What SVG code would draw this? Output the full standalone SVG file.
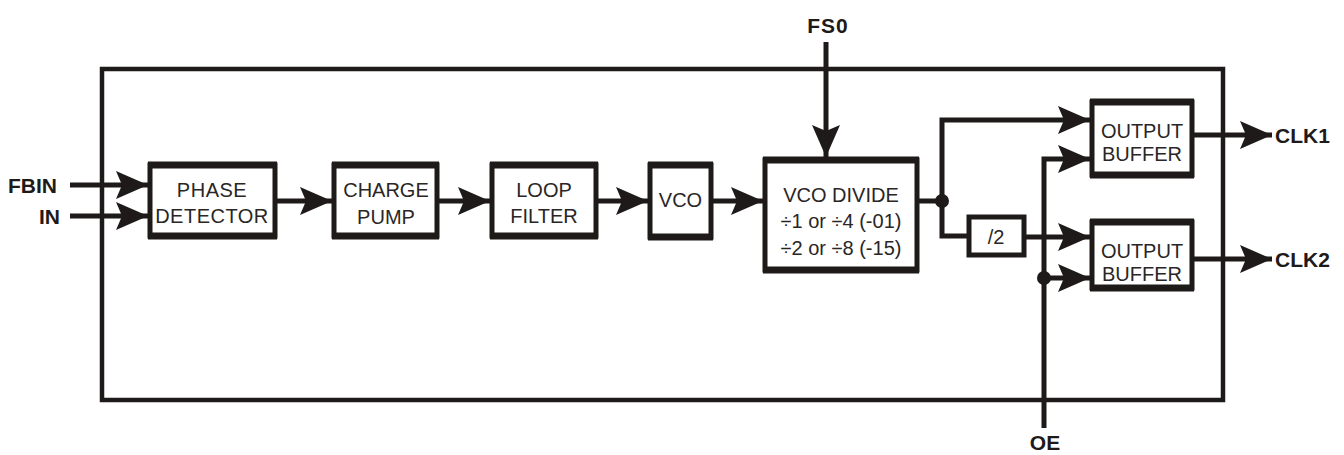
<svg xmlns="http://www.w3.org/2000/svg" width="1344" height="455" viewBox="0 0 1344 455">
<defs>
<marker id="ah" markerUnits="userSpaceOnUse" markerWidth="34" markerHeight="30" viewBox="0 0 34 30" refX="32" refY="15" orient="auto">
<path d="M0,1 L32,15 L0,29 L6,15 Z" fill="#1e1a19"/>
</marker>
</defs>
<style>
.frame{fill:none;stroke:#1e1a19;stroke-width:4.5}
.box{fill:#fff;stroke:#1e1a19;stroke-width:5}
.bar{stroke:#1e1a19;stroke-width:7}
.w{fill:none;stroke:#1e1a19;stroke-width:5}
.a{fill:none;stroke:#1e1a19;stroke-width:5;marker-end:url(#ah)}
.t{font-family:"Liberation Sans",Arial,sans-serif;font-size:20px;fill:#2a2626;text-anchor:middle}
.lbl{font-family:"Liberation Sans",Arial,sans-serif;font-size:21px;font-weight:bold;fill:#1e1a19}
.dot{fill:#1e1a19}
</style>
<rect width="1344" height="455" fill="#fff"/>
<rect class="frame" x="102" y="69" width="1121" height="331"/>

<g id="connectors">
<line class="a" x1="70" y1="185" x2="148" y2="185"/>
<line class="a" x1="70" y1="216" x2="148" y2="216"/>
<line class="a" x1="277" y1="201" x2="332" y2="201"/>
<line class="a" x1="439" y1="201" x2="490" y2="201"/>
<line class="a" x1="598" y1="201" x2="648" y2="201"/>
<line class="a" x1="713" y1="201" x2="763" y2="201"/>
<line class="a" x1="826" y1="42" x2="826" y2="157"/>
<polyline class="w" points="919,201 942,201"/>
<polyline class="a" points="942,201 942,120 1090,120"/>
<polyline class="w" points="942,201 942,236 967,236"/>
<line class="a" x1="1026" y1="237" x2="1090" y2="237"/>
<polyline class="a" points="1044,428 1044,159 1090,159"/>
<line class="a" x1="1044" y1="278" x2="1090" y2="278"/>
<line class="a" x1="1194" y1="135" x2="1272" y2="135"/>
<line class="a" x1="1194" y1="259" x2="1272" y2="259"/>
<circle class="dot" cx="942" cy="201" r="7"/>
<circle class="dot" cx="1044" cy="278" r="7"/>
</g>

<g id="labels">
<text class="lbl" x="8" y="193">FBIN</text>
<text class="lbl" x="39" y="224">IN</text>
<text class="lbl" x="828" y="33" text-anchor="middle" letter-spacing="1">FS0</text>
<text class="lbl" x="1275" y="143">CLK1</text>
<text class="lbl" x="1275" y="267">CLK2</text>
<text class="lbl" x="1045" y="450" text-anchor="middle">OE</text>
</g>

<g id="phase-detector">
<rect class="box" x="150" y="165" width="125" height="71"/>
<line class="bar" x1="148" y1="165" x2="277" y2="165"/>
<line class="bar" x1="148" y1="236" x2="277" y2="236"/>
<text class="t" x="212" y="197" letter-spacing="0.5">PHASE</text>
<text class="t" x="212" y="223" letter-spacing="0.5">DETECTOR</text>
</g>

<g id="charge-pump">
<rect class="box" x="334" y="165" width="103" height="71"/>
<line class="bar" x1="332" y1="165" x2="439" y2="165"/>
<line class="bar" x1="332" y1="236" x2="439" y2="236"/>
<text class="t" x="386" y="197">CHARGE</text>
<text class="t" x="386" y="224">PUMP</text>
</g>

<g id="loop-filter">
<rect class="box" x="492" y="165" width="104" height="71"/>
<line class="bar" x1="490" y1="165" x2="598" y2="165"/>
<line class="bar" x1="490" y1="236" x2="598" y2="236"/>
<text class="t" x="544" y="197">LOOP</text>
<text class="t" x="544" y="223">FILTER</text>
</g>

<g id="vco">
<rect class="box" x="650" y="165" width="61" height="72"/>
<line class="bar" x1="648" y1="165" x2="713" y2="165"/>
<line class="bar" x1="648" y1="237" x2="713" y2="237"/>
<text class="t" x="680.5" y="207" font-size="17">VCO</text>
</g>

<g id="vco-divide">
<rect class="box" x="765" y="160" width="152" height="110"/>
<line class="bar" x1="763" y1="160" x2="919" y2="160"/>
<line class="bar" x1="763" y1="270" x2="919" y2="270"/>
<text class="t" x="841" y="202">VCO DIVIDE</text>
<text class="t" x="841" y="228">÷1  or ÷4 (-01)</text>
<text class="t" x="841" y="255">÷2 or ÷8 (-15)</text>
</g>

<g id="div2">
<rect class="box" x="969" y="217" width="55" height="38" stroke-width="4.5"/>
<text class="t" x="996" y="244">/2</text>
</g>

<g id="output-buffer-1">
<rect class="box" x="1092" y="102" width="100" height="73"/>
<line class="bar" x1="1090" y1="102" x2="1194" y2="102"/>
<line class="bar" x1="1090" y1="175" x2="1194" y2="175"/>
<text class="t" x="1142" y="138">OUTPUT</text>
<text class="t" x="1142" y="161">BUFFER</text>
</g>

<g id="output-buffer-2">
<rect class="box" x="1092" y="222" width="100" height="66"/>
<line class="bar" x1="1090" y1="222" x2="1194" y2="222"/>
<line class="bar" x1="1090" y1="288" x2="1194" y2="288"/>
<text class="t" x="1142" y="258">OUTPUT</text>
<text class="t" x="1142" y="281">BUFFER</text>
</g>
</svg>
